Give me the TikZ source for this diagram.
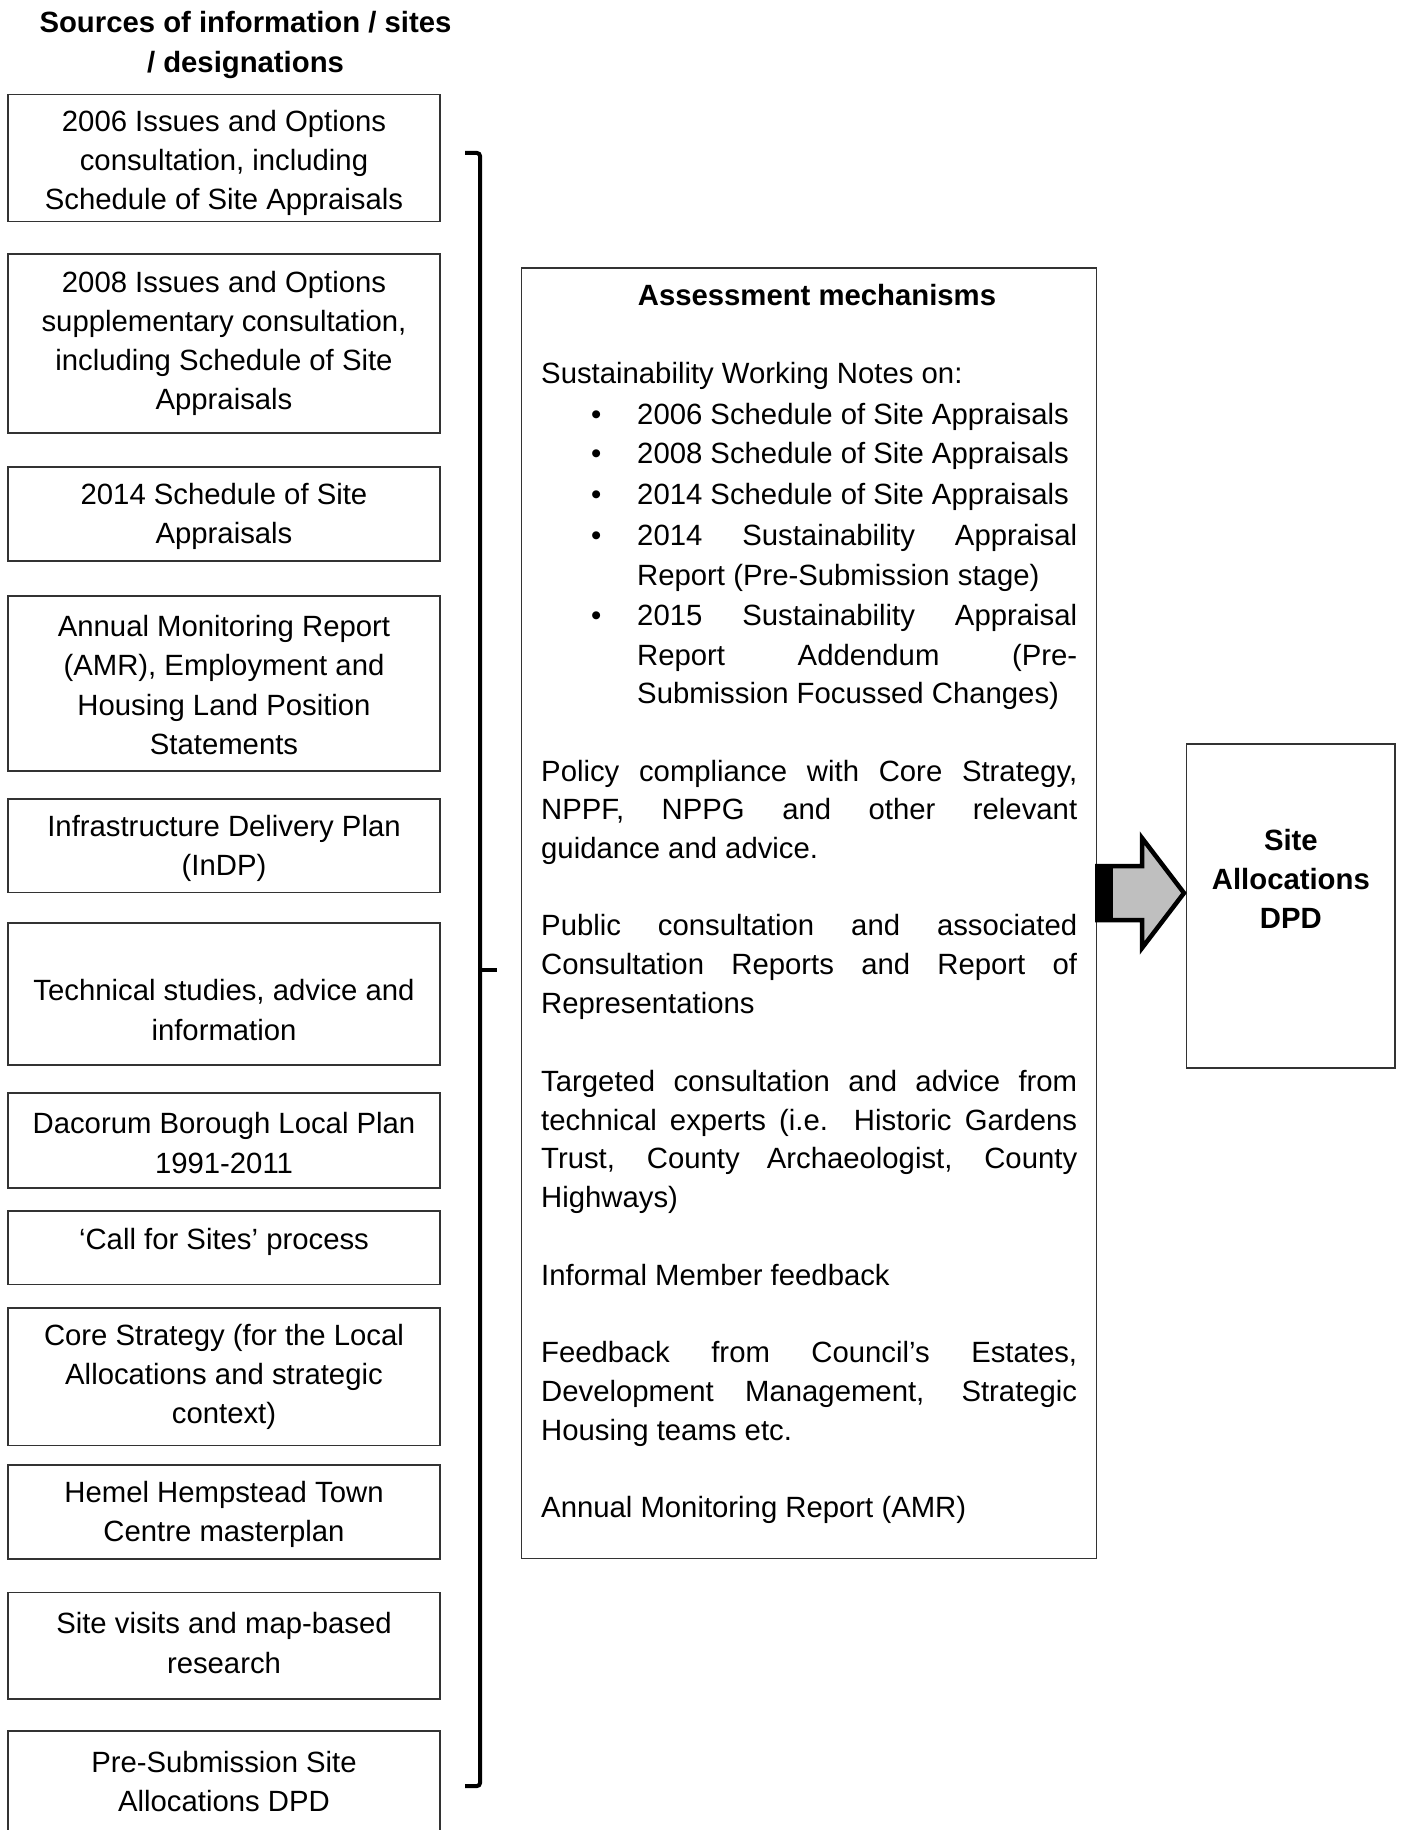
\documentclass[tikz,border=0pt]{standalone}
\usepackage{fontspec}
\setmainfont{Liberation Sans}
\begin{document}
\begin{tikzpicture}[x=1pt,y=-1pt,
  frame/.style={draw=black!80, line width=1.3pt, inner sep=0pt},
  srcframe/.style={frame, minimum width=432pt},
  txt/.style={font=\fontsize{29.3}{39.1}\selectfont, inner sep=0pt, align=center},
  btxt/.style={txt, font=\fontsize{29.3}{39.1}\selectfont\bfseries},
  atxt/.style={font=\fontsize{29.3}{39.1}\selectfont, inner sep=0pt, anchor=base west},
  bracketline/.style={line width=4pt, draw=black},
  bigarrow/.style={fill=black!25, draw=black, line width=4.5pt, line join=miter}
]
\useasboundingbox (0,0) rectangle (1400,1830);
\newcommand\srcbox[5]{%
  \node[srcframe, minimum height=#3pt] (#1) at (224,#2) {};
  \node[txt] (#1t) at (224,#4) {#5};}
\newcommand\jl[2]{\makebox[#1pt][s]{#2}}

% heading
\node[btxt] (head) at (245.5,45) {Sources of information / sites\\/ designations};

% source boxes
\srcbox{b1}{158.1}{127.2}{163}{2006 Issues and Options\\consultation, including\\Schedule of Site Appraisals}
\srcbox{b2}{343.5}{179}{343.7}{2008 Issues and Options\\supplementary consultation,\\including Schedule of Site\\Appraisals}
\srcbox{b3}{514}{94}{516}{2014 Schedule of Site\\Appraisals}
\srcbox{b4}{683.5}{175}{685}{Annual Monitoring Report\\(AMR), Employment and\\Housing Land Position\\Statements}
\srcbox{b5}{845.75}{93.5}{848}{Infrastructure Delivery Plan\\(InDP)}
\srcbox{b6}{994}{142}{1010}{Technical studies, advice and\\information}
\srcbox{b7}{1140.5}{95}{1143}{Dacorum Borough Local Plan\\1991-2011}
\srcbox{b8}{1247.75}{73.5}{1242}{‘Call for Sites’ process}
\srcbox{b9}{1376.75}{137.5}{1377}{Core Strategy (for the Local\\Allocations and strategic\\context)}
\srcbox{b10}{1512}{94}{1514}{Hemel Hempstead Town\\Centre masterplan}
\srcbox{b11}{1645.75}{106.5}{1643}{Site visits and map-based\\research}
\srcbox{b12}{1788}{114}{1781.6}{Pre-Submission Site\\Allocations DPD}

% bracket
\coordinate (brtopl) at (465,153);
\coordinate (brtop) at (480,153);
\coordinate (brbot) at (480,1786);
\coordinate (brbotl) at (465,1786);
\coordinate (brmid) at (480,970);
\coordinate (brtick) at (497,970);
\draw[bracketline, rounded corners=3pt] (brtopl) -- (brtop) -- (brbot) -- (brbotl);
\draw[bracketline] (brmid) -- (brtick);

% assessment box
\node[frame, minimum width=575.2pt, minimum height=1290.7pt] (assess) at (809.1,913.35) {};
\node[btxt, anchor=base] (ahead) at (817,305) {Assessment mechanisms};
\node[atxt] (a0) at (541,383.3) {Sustainability Working Notes on:};
\node[atxt] (d1) at (591,424.2) {•};
\node[atxt] (a1) at (637,424.2) {2006 Schedule of Site Appraisals};
\node[atxt] (d2) at (591,463.8) {•};
\node[atxt] (a2) at (637,463.8) {2008 Schedule of Site Appraisals};
\node[atxt] (d3) at (591,504.7) {•};
\node[atxt] (a3) at (637,504.7) {2014 Schedule of Site Appraisals};
\node[atxt] (d4) at (591,545.5) {•};
\node[atxt] (a4) at (637,545.5) {\jl{440}{2014 Sustainability Appraisal}};
\node[atxt] (a5) at (637,585.2) {Report (Pre-Submission stage)};
\node[atxt] (d6) at (591,625.5) {•};
\node[atxt] (a6) at (637,625.5) {\jl{440}{2015 Sustainability Appraisal}};
\node[atxt] (a7) at (637,665.2) {\jl{440}{Report Addendum (Pre-}};
\node[atxt] (a8) at (637,703.5) {Submission Focussed Changes)};
\node[atxt] (a10) at (541,781.2) {\jl{536}{Policy compliance with Core Strategy,}};
\node[atxt] (a11) at (541,819.7) {\jl{536}{NPPF, NPPG and other relevant}};
\node[atxt] (a12) at (541,858.2) {guidance and advice.};
\node[atxt] (a14) at (541,935.2) {\jl{536}{Public consultation and associated}};
\node[atxt] (a15) at (541,974.8) {\jl{536}{Consultation Reports and Report of}};
\node[atxt] (a16) at (541,1013.3) {Representations};
\node[atxt] (a18) at (541,1091.5) {\jl{536}{Targeted consultation and advice from}};
\node[atxt] (a19) at (541,1130) {\jl{536}{technical experts (i.e. Historic Gardens}};
\node[atxt] (a20) at (541,1168.5) {\jl{536}{Trust, County Archaeologist, County}};
\node[atxt] (a21) at (541,1207) {Highways)};
\node[atxt] (a23) at (541,1285.2) {Informal Member feedback};
\node[atxt] (a25) at (541,1362.2) {\jl{536}{Feedback from Council’s Estates,}};
\node[atxt] (a26) at (541,1401.8) {\jl{536}{Development Management, Strategic}};
\node[atxt] (a27) at (541,1440.3) {Housing teams etc.};
\node[atxt] (a29) at (541,1517.3) {Annual Monitoring Report (AMR)};

% site box
\node[frame, minimum width=208.3pt, minimum height=324pt] (site) at (1290.85,906) {};
\node[btxt] (sitet) at (1290.85,879) {Site\\Allocations\\DPD};

% big arrow
\draw[bigarrow] (assess.east |- 0,866) -- (1142,866) -- (1142,838) -- (1184,893)
  -- (1142,948) -- (1142,920) -- (assess.east |- 0,920) -- cycle;
\fill[black] (assess.east |- 0,864) rectangle (1113,922);
\end{tikzpicture}
\end{document}
